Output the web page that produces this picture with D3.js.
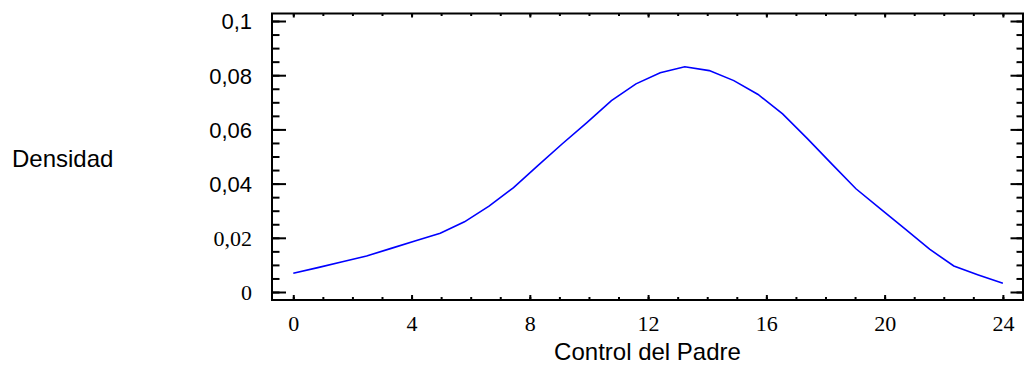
<!DOCTYPE html>
<html>
<head>
<meta charset="utf-8">
<script src="https://cdn.jsdelivr.net/npm/d3@7"></script>
<style>
  body { margin: 0; background: #fff; }
  svg { display: block; }
</style>
</head>
<body>
<div id="chart"></div>
<script>
// Density curve data
const xValues = [0, 0.83, 1.66, 2.48, 3.31, 4.14, 4.97, 5.79, 6.62, 7.45,
                 8.28, 9.1, 9.93, 10.76, 11.59, 12.41, 13.24, 14.07, 14.9, 15.72,
                 16.55, 17.38, 18.21, 19.03, 19.86, 20.69, 21.52, 22.34, 23.17, 24];
const densityValues = [0.0069, 0.0090, 0.0112, 0.0133, 0.0161, 0.0189, 0.0217, 0.0259, 0.0317, 0.0385,
                       0.0467, 0.0547, 0.0625, 0.0706, 0.0768, 0.0809, 0.0831, 0.0817, 0.0780, 0.0729,
                       0.0657, 0.0567, 0.0473, 0.0381, 0.0307, 0.0233, 0.0158, 0.0096, 0.0063, 0.0032];

// Ticks
const xMajorTicks = [0, 4, 8, 12, 16, 20, 24];
const xMinorTicks = [0, 1, 2, 3, 4, 5, 6, 7, 8, 9, 10, 11, 12, 13, 14, 15, 16, 17, 18, 19, 20, 21, 22, 23, 24];
const yMajorTicks = [0, 0.02, 0.04, 0.06, 0.08, 0.1];
const yTickLabels = ['0', '0,02', '0,04', '0,06', '0,08', '0,1'];
const yMinorTicks = [0, 0.005, 0.01, 0.015, 0.02, 0.025, 0.03, 0.035, 0.04, 0.045, 0.05,
                     0.055, 0.06, 0.065, 0.07, 0.075, 0.08, 0.085, 0.09, 0.095, 0.1];

const xTitle = 'Control del Padre';
const yTitle = 'Densidad';

const W = 1024, H = 370;
const plot = { left: 272, right: 1023, top: 13.5, bottom: 300 };

const svg = d3.select('#chart').append('svg')
    .attr('width', W)
    .attr('height', H);

// Scales
const x = d3.scaleLinear()
    .domain([-0.72, 24.68])
    .range([plot.left, plot.right]);

const y = d3.scaleLinear()
    .domain([-0.00295, 0.10277])
    .range([plot.bottom, plot.top]);

const sans = '"Liberation Sans", Arial, sans-serif';
const serif = '"Liberation Serif", "Times New Roman", serif';

function styleAxis(g) {
    g.select('.domain').remove();
    g.attr('font-family', null);
    g.selectAll('line').attr('stroke', '#000').attr('stroke-width', 2);
}

// Left axis: inward ticks
svg.append('g')
    .attr('transform', `translate(${plot.left},0)`)
    .call(d3.axisLeft(y).tickValues(yMinorTicks).tickSize(-7.5).tickFormat(''))
    .call(styleAxis);

const yAxisG = svg.append('g')
    .attr('transform', `translate(${plot.left},0)`)
    .call(d3.axisLeft(y).tickValues(yMajorTicks).tickSize(-14)
        .tickFormat((d, i) => yTickLabels[i]))
    .call(styleAxis);

yAxisG.selectAll('text')
    .attr('x', -20)
    .attr('dy', '0.36em')
    .style('font-size', '22px')
    .style('font-family', (d, i) => i < 2 ? serif : sans)
    .attr('fill', '#000');

// Right axis: inward ticks
svg.append('g')
    .attr('transform', `translate(${plot.right},0)`)
    .call(d3.axisRight(y).tickValues(yMinorTicks).tickSize(-6.5).tickFormat(''))
    .call(styleAxis);
svg.append('g')
    .attr('transform', `translate(${plot.right},0)`)
    .call(d3.axisRight(y).tickValues(yMajorTicks).tickSize(-12.5).tickFormat(''))
    .call(styleAxis);

// Bottom axis
svg.append('g')
    .attr('transform', `translate(0,${plot.bottom})`)
    .call(d3.axisBottom(x).tickValues(xMinorTicks).tickSize(-3).tickFormat(''))
    .call(styleAxis);

const xAxisG = svg.append('g')
    .attr('transform', `translate(0,${plot.bottom})`)
    .call(d3.axisBottom(x).tickValues(xMajorTicks).tickSize(-5).tickFormat(d3.format('d')))
    .call(styleAxis);

xAxisG.selectAll('text')
    .attr('y', 31)
    .attr('dy', 0)
    .style('font-size', '22px')
    .style('font-family', serif)
    .attr('fill', '#000');

// Top axis
svg.append('g')
    .attr('transform', `translate(0,${plot.top})`)
    .call(d3.axisTop(x).tickValues(xMinorTicks).tickSize(-2.5).tickFormat(''))
    .call(styleAxis);
svg.append('g')
    .attr('transform', `translate(0,${plot.top})`)
    .call(d3.axisTop(x).tickValues(xMajorTicks).tickSize(-4).tickFormat(''))
    .call(styleAxis);

// Frame
svg.append('rect')
    .attr('x', plot.left)
    .attr('y', plot.top)
    .attr('width', plot.right - plot.left)
    .attr('height', plot.bottom - plot.top)
    .attr('fill', 'none')
    .attr('stroke', '#000')
    .attr('stroke-width', 2);

// Curve
const data = xValues.map((d, i) => ({ x: d, y: densityValues[i] }));

const line = d3.line()
    .x(d => x(d.x))
    .y(d => y(d.y));

svg.append('path')
    .datum(data)
    .attr('d', line)
    .attr('fill', 'none')
    .attr('stroke', '#0000ff')
    .attr('stroke-width', 1.6);

// Axis titles
svg.append('text')
    .attr('x', 12)
    .attr('y', 167)
    .style('font-family', sans)
    .style('font-size', '24px')
    .attr('fill', '#000')
    .text(yTitle);

svg.append('text')
    .attr('x', (plot.left + plot.right) / 2)
    .attr('y', 360)
    .attr('text-anchor', 'middle')
    .style('font-family', sans)
    .style('font-size', '24px')
    .attr('fill', '#000')
    .text(xTitle);
</script>
</body>
</html>
